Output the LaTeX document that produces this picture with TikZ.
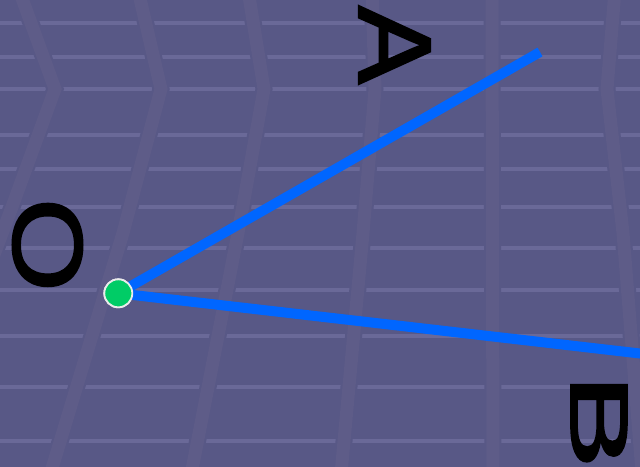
\documentclass[tikz,border=0pt]{standalone}
\usepackage{fontspec}
\setmainfont{Liberation Sans}
\newfontfamily\lettfont[FakeBold=2]{Liberation Sans}
\usepackage{graphicx}
\definecolor{bgc}{RGB}{88,88,134}
\definecolor{stripec}{RGB}{94,92,136}
\definecolor{linec}{RGB}{106,105,152}
\definecolor{rayc}{RGB}{0,102,255}
\definecolor{dotc}{RGB}{0,204,102}
\tikzset{
  hline/.style={draw=linec, line width=4.5pt},
  stripehalo/.style={draw=bgc, line width=17pt, line join=miter},
  stripe/.style={draw=stripec, line width=13pt, line join=miter},
  ray/.style={draw=rayc, line width=10pt},
  dot/.style={circle, fill=dotc, draw=white!92!black, line width=1.8pt, minimum size=28pt, inner sep=0pt},
  letter/.style={inner sep=0pt, rotate=-90, text=black, font=\lettfont}
}
\begin{document}
\begin{tikzpicture}[x=1pt,y=-1pt]
\useasboundingbox (0,0) rectangle (640,466);
\fill[bgc] (-20,-20) rectangle (660,486);
% horizontal light lines
\foreach \yy in {23,57,89,135,169,207,248,290,336,387,441}
  \draw[hline] (-15,\yy) -- (655,\yy);
% stripes
\foreach \p in {
  {(19,-10) -- (55,89) -- (12,207) -- (-8,260)},
  {(138,-10) -- (161,89) -- (123,233) -- (47,485)},
  {(248,-10) -- (264,89) -- (238,233) -- (189,485)},
  {(372,-10) -- (375,89) -- (363,233) -- (340,485)},
  {(492,-10) -- (493,485)},
  {(615,-10) -- (607,89) -- (623,233) -- (643,485)}}
{
  \draw[stripehalo] \p;
  \draw[stripe] \p;
}
% geometry
\node[dot] (O) at (118.3,293.3) {};
\coordinate (A) at (540,52);
\coordinate (B) at (680,358.1);
\draw[ray] (O.center) -- (A);
\draw[ray] (O.center) -- (B);
\node[dot] at (O) {};
% labels
\node[letter] (lA) at (394.5,45) {\resizebox{78pt}{71pt}{A}};
\node[letter] (lO) at (47.5,245) {\resizebox{82pt}{69pt}{\hspace{-0.048em}O\hspace{-0.048em}}};
\node[letter] (lB) at (599,422.5) {\resizebox{77pt}{56pt}{\hspace{-0.073em}B\hspace{-0.054em}}};
\end{tikzpicture}
\end{document}
